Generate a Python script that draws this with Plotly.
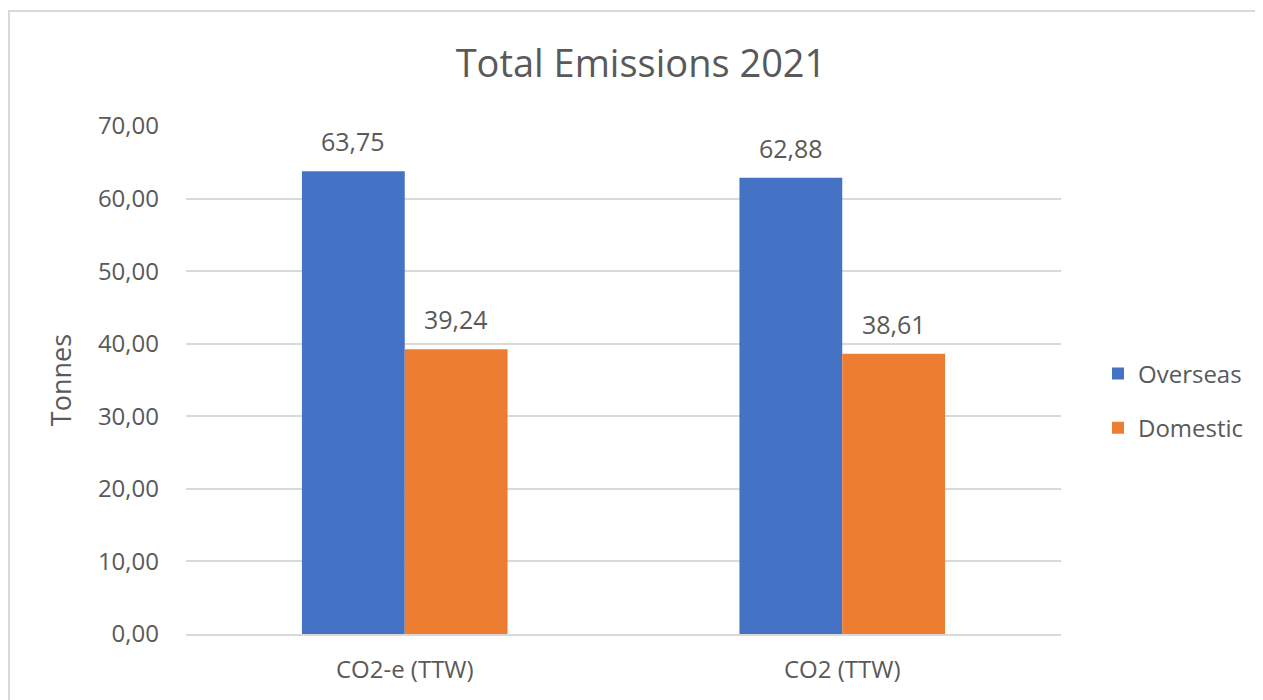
import plotly.graph_objects as go

categories = ["CO2-e (TTW)", "CO2 (TTW)"]
overseas = [63.75, 62.88]
domestic = [39.24, 38.61]
series_names = ["Overseas", "Domestic"]
colors = ["#4472C4", "#ED7D31"]
y_ticks = [0, 10, 20, 30, 40, 50, 60, 70]

OFF = 8  # page body margin
W, H = 1263 - OFF, 700 - OFF
L, T = 186 - OFF, 126 - OFF
R = W - (1061 - OFF)
B = H - (634 - OFF)
pw, ph = W - L - R, H - T - B

font = "Open Sans"
gray = "#595959"

fig = go.Figure()
for name, vals, col in zip(series_names, [overseas, domestic], colors):
    fig.add_trace(go.Bar(name=name, x=categories, y=vals, marker_color=col,
                         marker_line_width=0, legendgroup=name))

bar_px = pw / len(categories) * (1 - 0.53) / 2
for i, vals in enumerate([overseas, domestic]):
    shift = (-0.5 if i == 0 else 0.5) * bar_px
    for c, v in zip(categories, vals):
        fig.add_annotation(x=c, y=v, text=f"{v:.2f}".replace(".", ","),
                           showarrow=False, xshift=shift, yshift=30,
                           yanchor="middle",
                           font=dict(family=font, size=25, color=gray))

fig.add_shape(type="rect", xref="paper", yref="paper",
              x0=(1 - L) / pw, x1=(W + 20 - L) / pw,
              y0=-(B + 20) / ph, y1=(H - (11 - OFF) - B) / ph,
              line=dict(color="#d9d9d9", width=2), fillcolor="rgba(0,0,0,0)",
              layer="below")

fig.update_layout(
    width=W, height=H,
    margin=dict(l=L, r=R, t=T, b=B, autoexpand=False),
    paper_bgcolor="white", plot_bgcolor="white",
    separators=",.",
    barmode="group", bargap=0.53, bargroupgap=0,
    title=dict(text="Total Emissions 2021", x=(641 - OFF) / W, xref="container",
               xanchor="center", y=1 - (64 - OFF) / H, yanchor="middle",
               font=dict(family=font, size=38, color=gray)),
    legend=dict(x=(1098 - OFF - L) / pw, xanchor="left",
                y=(H - B - (401 - OFF)) / ph,
                yanchor="middle", font=dict(family=font, size=24, color=gray),
                tracegroupgap=20, bgcolor="rgba(0,0,0,0)"),
    showlegend=True,
)
fig.update_yaxes(range=[0, 70], tickvals=y_ticks, tickformat=".2f",
                 gridcolor="#d9d9d9", gridwidth=1.5, zeroline=False,
                 showline=False, ticks="", ticklabelstandoff=26,
                 tickfont=dict(family=font, size=24, color=gray),
                 title=dict(text="Tonnes", standoff=18,
                            font=dict(family=font, size=27, color=gray)),
                 automargin=False, fixedrange=True)
fig.update_xaxes(showline=True, linecolor="#d9d9d9", linewidth=1.5,
                 showgrid=False, ticks="", ticklabelstandoff=13,
                 tickfont=dict(family=font, size=24, color=gray),
                 automargin=False, fixedrange=True)

fig.write_html("out.html")
